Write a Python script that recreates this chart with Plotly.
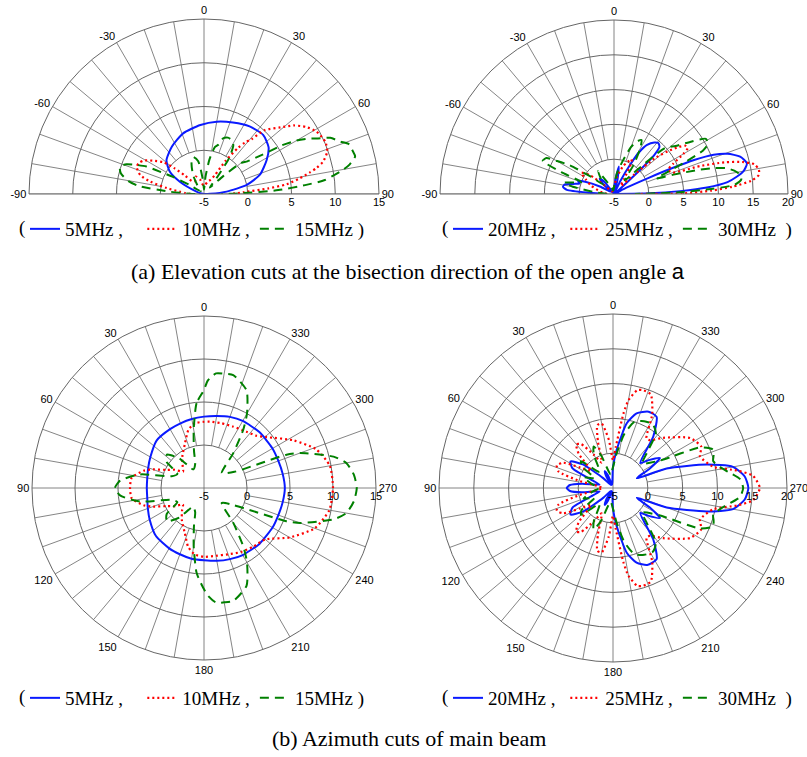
import plotly.graph_objects as go

# ---------------- DATA ----------------
# (a) Elevation cuts, left panel: 5 / 10 / 15 MHz  (theta in deg, r in dB)
el5_theta = [-90, -80, -72, -63, -57, -48, -34, -19, -3, 10, 22, 34, 45, 54, 61.5, 71, 78, 84, 88, 90]
el5_r = [-5, -4.7, -4.1, -1.9, -0.35, 0.77, 1.55, 2.33, 2.9, 3.39, 3.81, 4.32, 4.56, 4.12, 3.15, 1.76, 0.0, -2.4, -4.3, -5]

el10_theta = [-90, -87, -84.5, -81, -77, -73.5, -68, -64, -61, -57, -52, -49, -46, -43, -35, -25, -15, -5, 5, 15,
              25, 30, 33, 36.5, 38.5, 41, 43.6, 49, 52.6, 56.7, 61, 66.6, 71, 74.8, 77, 78.4, 80.7, 83.3, 85, 87.5, 90]
el10_r = [-3.5, -2.8, -2.2, -0.7, 1.3, 2.6, 3.3, 3.2, 2.9, 2.0, 0.9, -0.5, -2.0, -3.0, -3.2, -2.8, -3.3, -4, -4, -3.6,
          -3.2, -2.5, -0.5, 1.6, 2.5, 3.3, 5.1, 6.6, 7.9, 8.95, 9.7, 10.1, 9.9, 9.1, 8.2, 7.4, 6.1, 4.5, 2.4, -0.5, -2]

el15_theta = [-90, -88, -86, -83, -80.5, -76, -72, -69, -66.7, -64.5, -63, -61, -58, -50, -40, -30, -22, -16, -10, -4,
              0, 5, 9, 13, 16.5, 19, 23, 27, 31, 35, 38, 42, 47, 50, 53, 56, 58, 60, 62, 64, 66, 69, 71, 74, 76, 78.5,
              80, 83.4, 85, 87, 89, 90]
el15_r = [-4, -3, -0.9, 2.5, 3.7, 4.8, 5.1, 4.5, 3.4, 2.3, 0.5, -1.0, -3, -4.5, -4, -2.5, -1.2, -0.6, -1.2, -3.5,
          -4.5, -3, -1.0, 0.5, 0.9, 1.74, 2.0, 1.94, 1.5, 0.0, -2.5, -4, -2, 0.5, 1.2, 3.0, 5.5, 7.2, 8.5, 9.5, 10.8,
          11.7, 12.5, 12.7, 12.8, 12.0, 11.2, 8.9, 6.6, 3.5, -1, -3]

# (a) Elevation cuts, right panel: 20 / 25 / 30 MHz
el20_theta = [-90, -87, -85, -82, -79, -76, -73, -70, -67, -62, -55, -48, -43, -39, -35, -20, 0, 5, 10, 14, 20, 26,
              29, 31, 34, 38, 41, 44, 46, 47, 48, 52, 58, 63, 65, 66, 67, 68.5, 70.5, 73.5, 77, 80, 82, 84, 86, 87.5,
              89, 90]
el20_r = [-4, -1.5, 1.8, 2.4, 2.2, 1.0, 0.2, 0.5, -0.5, -2.7, -4.5, -3, -2.0, -2.5, -4.5, -5, -4.5, -3, -1, -3, -5, -3,
          0, 2, 3.5, 4.4, 4.7, 4.4, 3, 1, -2, -4.5, -5, -3, 0.5, 4, 7.5, 10.4, 12.3, 13.9, 14.6, 13.9, 12.8, 11.4,
          8.4, 4.5, 0.2, -5]

el25_theta = [-90, -80, -70, -63, -57, -52, -48, -40, -20, 0, 10, 18, 23, 27, 30, 34, 40, 46, 49, 52, 54, 56, 58, 60,
              63, 66, 70, 72, 74, 76, 78, 80.5, 82.5, 84.5, 86.5, 88, 89.5, 90]
el25_r = [-4, -3, -1.5, -0.5, 0.6, -0.6, -3, -4.5, -4.5, -4, -2.5, -0.8, 0, 0.6, -0.4, -2.5, -3.5, -1, 3, 5.2, 6.5,
          7.4, 7.5, 6.5, 4.5, 3.5, 4.0, 8, 11.5, 14, 15.6, 16.1, 16.0, 14.8, 12, 9, 5, -2]

el30_theta = [-90, -84, -80, -77, -74, -70, -67.5, -65, -62, -60, -57, -53, -48, -40, -35, -30, -20, -10, 0, 8, 15, 20,
              24, 27, 30, 34, 38, 44, 48, 52, 56, 59, 62, 64, 66, 68, 70, 72, 74, 75.5, 77, 79, 81.5, 83.5, 85.7, 87,
              88.5, 90]
el30_r = [-4, -2, 1, 2.3, 1, 0, 3.2, 6.3, 6.0, 4.5, 2.6, -1, -3, -2, -1, -3, -4, -4.5, -4, -2, 0, 2.2, 3.3, 3.7, 2.5,
          0, -2.5, 0, 4.9, 6.2, 8.5, 10.4, 10.3, 9.2, 6, 3, 1.5, 4, 7.5, 9.8, 11.5, 12.6, 13.4, 13.4, 12.3, 9, 4.5, -2]

# (b) Azimuth cuts, left panel: 5 / 10 / 15 MHz
az5_theta = [0, 10, 20, 30, 45, 60, 70, 80, 90, 100, 110, 120, 135, 150, 160, 170, 180, 190, 200, 210, 225, 240, 250,
             260, 270, 280, 290, 300, 315, 330, 340, 350, 360]
az5_r = [3.3, 3.15, 3.0, 2.9, 2.8, 2.2, 1.9, 1.7, 1.65, 1.7, 1.95, 2.3, 2.9, 3.1, 3.2, 3.35, 3.4, 3.6, 3.8, 4.0, 4.15,
         4.2, 4.2, 4.3, 4.4, 4.3, 4.2, 4.2, 4.15, 4.0, 3.8, 3.5, 3.3]

az10_theta = [0, 8, 15, 23, 35, 45, 52, 58, 64, 70, 74, 82, 90, 98, 106, 110, 116, 122, 128, 135, 145, 157, 165, 172,
              180, 190, 200, 210, 220, 230, 240, 250, 260, 270, 280, 289, 298, 309, 315, 323, 335, 345, 355, 360]
az10_r = [2.7, 2.6, 2.0, 0.65, -0.6, -1.5, -1.9, -1.0, -0.2, 1.3, 2.3, 3.5, 3.6, 3.5, 2.3, 1.3, -0.2, -1.0, -1.9, -1.4,
          -0.5, 0.7, 2.1, 2.8, 3.0, 3.0, 3.2, 3.6, 3.9, 4.3, 6.5, 8.7, 9.8, 10.0, 9.86, 8.8, 6.8, 4.4, 3.6, 3.2, 2.9,
          2.8, 2.75, 2.7]

az15_theta = [0, 5, 10, 15, 20, 30, 40, 48, 55, 62, 70, 78, 85, 90, 95, 102, 110, 118, 125, 132, 140, 150, 160, 165,
              170, 175, 179, 182, 186, 190, 194.5, 203.5, 210, 214, 220, 230, 240, 248, 250, 256.4, 260, 265, 270, 275,
              280, 283.6, 290, 292, 298, 310, 320, 326, 330, 336.5, 345.5, 350, 354, 358, 360]
az15_r = [6.4, 4.9, 1.9, -0.5, -2, -2.5, -0.5, 0.8, 0.3, -1.5, -1, 2.6, 4.8, 5.35, 4.8, 2.6, -1, -1.5, 0.3, 0.8, -0.5,
          -2.5, -2, -0.5, 1.9, 4.9, 6.4, 7.5, 8.4, 8.5, 8.57, 7.4, 5.0, 3.15, 0.3, -2.3, -1, 5.35, 6.9, 10.5, 11.8,
          12.5, 12.76, 12.5, 11.8, 10.5, 6.9, 5.35, -1, -2.3, 0.3, 3.15, 5.0, 7.4, 8.57, 8.5, 8.4, 7.5, 6.4]

# (b) Azimuth cuts, right panel: 20 / 25 / 30 MHz
az20_theta = [0, 5, 15, 22, 26, 30, 36, 45, 52, 58, 64, 70, 76, 82, 86, 90, 94, 98, 104, 110, 116, 122, 128, 135, 144,
              150, 154, 158, 165, 175, 180, 185.5, 192, 197.5, 204, 211.5, 218, 227.5, 232, 237.5, 242, 246, 248, 250,
              256, 260, 265, 270, 275, 280, 284, 290, 292, 294, 298, 302.5, 308, 312.5, 322, 328.5, 335, 342.5, 348,
              354.5, 360]
az20_r = [-2, -4, -4.5, -3, -2.3, -3, -4.5, -3, 0.5, 2.2, 1.5, -2, -3, -0.5, 1.2, 1.65, 1.2, -0.5, -3, -2, 1.5, 2.2,
          0.5, -3, -4.5, -3, -2.3, -3, -4.5, -4, -2, 0.5, 4.5, 6.25, 7.1, 7.0, 4.4, 0.3, 1.5, 3.0, 1, -1, -1.3, 3.2,
          8.9, 12.5, 14.0, 14.45, 14.0, 12.5, 8.9, 3.2, -1.3, -1, 1, 3.0, 1.5, 0.3, 4.4, 7.0, 7.1, 6.25, 4.5, 0.5, -2]

az25_theta = [0, 5, 10, 14, 18, 24, 30, 36, 40, 45, 52, 58, 63, 68, 73, 78, 84, 90, 96, 102, 107, 112, 117, 122, 128,
              135, 140, 144, 150, 156, 162, 166, 170, 175, 180, 184, 188, 190, 194, 197, 202, 208, 214, 218, 225, 237,
              245, 250, 258, 262, 265, 270, 275, 278, 282, 290, 295, 303, 315, 322, 326, 332, 338, 343, 346, 350, 352,
              356, 360]
az25_r = [-1, 2, 4.4, 4.3, 2, -1, 0.5, 2.8, 3.2, 2, -1, 0.5, 3.0, 3.7, 3.2, 0, -3, -3.5, -3, 0, 3.2, 3.7, 3.0, 0.5,
          -1, 2, 3.2, 2.8, 0.5, -1, 2, 4.3, 4.4, 2, -1, 1, 5.8, 7.8, 9.5, 9.7, 9.5, 7, 3.6, 3.7, 5.2, 8.2, 9.0, 8.3,
          9.7, 13, 15.2, 16.1, 15.2, 13, 9.7, 8.3, 9.0, 8.2, 5.2, 3.7, 3.6, 7, 9.5, 9.7, 9.5, 7.8, 5.8, 1, -1]

az30_theta = [0, 10, 20, 25, 30, 40, 50, 55, 62, 70, 80, 90, 100, 110, 118, 125, 130, 140, 150, 155, 160, 170, 180,
              186, 192, 198, 205, 212, 218, 224, 230, 240, 245, 249, 252, 255, 260, 262, 266, 270, 274, 278, 280, 285,
              288, 291, 295, 300, 310, 316, 322, 328, 335, 342, 348, 354, 360]
az30_r = [-2, -3, 0, 1.6, 0.5, -2, 1, 0.5, -2, -0.5, -2, -3, -2, -0.5, -2, 0.5, 1, -2, 0.5, 1.6, 0, -3, -2, 0, 3, 5,
          5.6, 5.8, 5, 2, 0.5, 3, 8.8, 10.4, 10.2, 9.9, 11.0, 11.7, 13.3, 13.7, 13.3, 11.7, 11.0, 9.9, 10.2, 10.4, 8.8,
          3, 0.5, 2, 5, 5.8, 5.6, 5, 3, 0, -2]

NB = "\u00a0"
labels_a1 = ["5MHz ," + NB * 3, "10MHz ,", "15MHz )"]
labels_a2 = ["20MHz ," + NB, "25MHz ,", "30MHz" + NB + " )"]

half_ticks = [-90, -60, -30, 0, 30, 60, 90]
full_ticks = list(range(0, 360, 30))

caption_a = "(a) Elevation cuts at the bisection direction of the open angle "
caption_b = "(b) Azimuth cuts of main beam"

# ---------------- FIGURE ----------------
W, H = 807, 757
BLUE = "#0a1aff"
RED = "#ff0000"
GREEN = "#008000"
GRID = "#666666"
SERIF = "Liberation Serif, Times New Roman, serif"
SANS = "Arial, Liberation Sans, sans-serif"

styles = [
    dict(color=BLUE, width=2, dash="solid"),
    dict(color=RED, width=2.2, dash="2px,3px"),
    dict(color=GREEN, width=2, dash="9px,6px"),
]

fig = go.Figure()


def add_spokes(subplot, thetas, rmax, axes):
    th, rr = [], []
    for t in thetas:
        start = -5 if t in axes else 0
        th += [t, t, None]
        rr += [start, rmax, None]
    fig.add_trace(go.Scatterpolar(theta=th, r=rr, mode="lines", subplot=subplot,
                                  line=dict(color=GRID, width=0.8), hoverinfo="skip",
                                  showlegend=False))


def add_series(subplot, legend, thetas, rs, labels):
    for th, r, lab, st in zip(thetas, rs, labels, styles):
        fig.add_trace(go.Scatterpolar(theta=th, r=r, mode="lines", name=lab, subplot=subplot,
                                      legend=legend, line=dict(shape="spline", smoothing=0.6, **st)))


add_spokes("polar", list(range(-90, 91, 10)), 15, (-90, 0, 90))
add_series("polar", "legend", [el5_theta, el10_theta, el15_theta], [el5_r, el10_r, el15_r], labels_a1)
add_spokes("polar2", list(range(-90, 91, 10)), 20, (-90, 0, 90))
add_series("polar2", "legend2", [el20_theta, el25_theta, el30_theta], [el20_r, el25_r, el30_r], labels_a2)
add_spokes("polar3", list(range(0, 360, 10)), 15, (0, 90, 180, 270))
add_series("polar3", "legend3", [az5_theta, az10_theta, az15_theta], [az5_r, az10_r, az15_r], labels_a1)
add_spokes("polar4", list(range(0, 360, 10)), 20, (0, 90, 180, 270))
add_series("polar4", "legend4", [az20_theta, az25_theta, az30_theta], [az20_r, az25_r, az30_r], labels_a2)


def polar_cfg(x0, x1, y0, y1, rmax, half):
    ticks = half_ticks if half else full_ticks
    cfg = dict(
        domain=dict(x=[x0 / W, x1 / W], y=[1 - y1 / H, 1 - y0 / H]),
        bgcolor="white",
        angularaxis=dict(rotation=90, direction="clockwise" if half else "counterclockwise",
                         tickmode="array", tickvals=ticks, ticktext=[str(t) for t in ticks],
                         showgrid=False, showline=True, linecolor=GRID, linewidth=1, ticks="",
                         tickfont=dict(family=SANS, size=11, color="black")),
        radialaxis=dict(range=[-5, rmax], tickmode="array", tickvals=list(range(-5, rmax + 1, 5)),
                        ticktext=[str(v) for v in range(-5, rmax + 1, 5)],
                        showgrid=True, gridcolor=GRID, gridwidth=0.8, showline=False, angle=0,
                        ticks="", side="clockwise",
                        tickfont=dict(family=SANS, size=11, color="black")),
    )
    if half:
        cfg["sector"] = [0, 180]
    return cfg


def legend_cfg(x, y):
    return dict(orientation="h", x=x / W, y=1 - y / H, xanchor="left", yanchor="middle",
                font=dict(family=SERIF, size=19, color="black"),
                bgcolor="rgba(0,0,0,0)", borderwidth=0, itemwidth=30, tracegroupgap=0)


def paren(x, y):
    return dict(text="(", xref="paper", yref="paper", x=x / W, y=1 - y / H, xanchor="center",
                yanchor="middle", showarrow=False, font=dict(family=SERIF, size=19, color="black"))


fig.update_layout(
    width=W, height=H, margin=dict(l=0, r=0, t=0, b=0),
    paper_bgcolor="white", plot_bgcolor="white",
    polar=polar_cfg(29, 379, 19, 194, 15, True),
    polar2=polar_cfg(440, 788, 20, 194, 20, True),
    polar3=polar_cfg(32, 376, 316, 660, 15, False),
    polar4=polar_cfg(439, 787, 314, 662, 20, False),
    legend=legend_cfg(25, 229),
    legend2=legend_cfg(448, 229),
    legend3=legend_cfg(25, 698),
    legend4=legend_cfg(448, 698),
    annotations=[
        paren(22, 228), paren(445, 228), paren(22, 697), paren(445, 697),
        dict(text=caption_a + '<span style="font-family:Arial, Liberation Sans">a</span>',
             xref="paper", yref="paper", x=408 / W, y=1 - 271 / H, xanchor="center", yanchor="middle",
             showarrow=False, font=dict(family=SERIF, size=22, color="black")),
        dict(text=caption_b, xref="paper", yref="paper", x=409 / W, y=1 - 738 / H,
             xanchor="center", yanchor="middle", showarrow=False,
             font=dict(family=SERIF, size=22, color="black")),
    ],
)

fig.write_html("out.html", config={"displayModeBar": False},
               post_script="document.body.style.margin='0px';")
